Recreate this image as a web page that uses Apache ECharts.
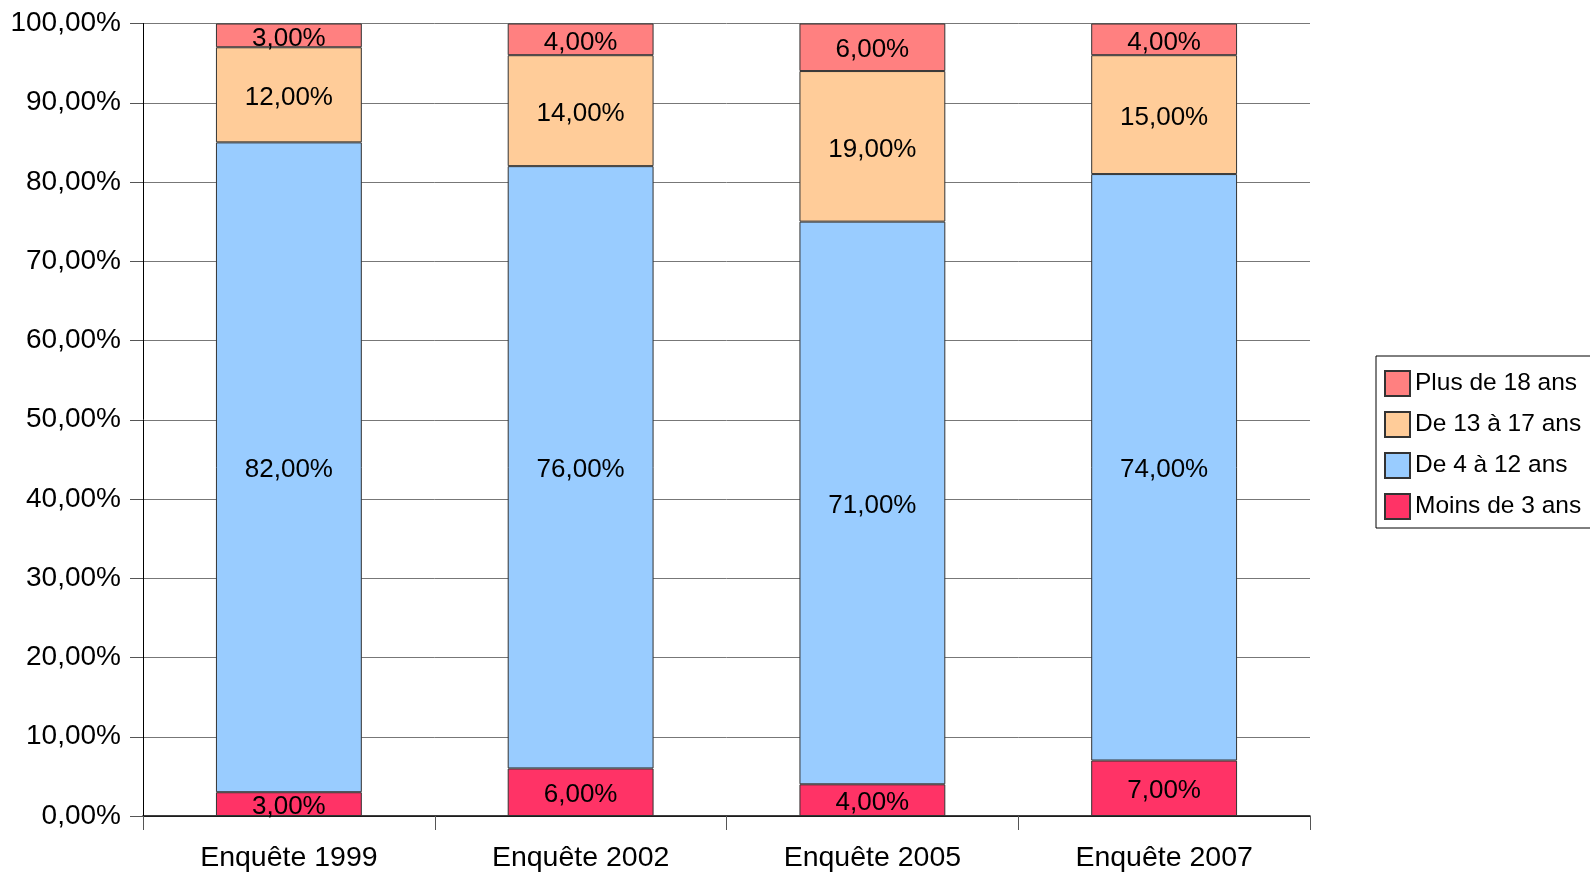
<!DOCTYPE html>
<html><head><meta charset="utf-8">
<script src="https://cdn.jsdelivr.net/npm/echarts@6/dist/echarts.min.js"></script>
<style>html,body{margin:0;padding:0;background:#fff}#c{width:1590px;height:877px}</style>
</head><body><div id="c"></div>
<script>
const categories = ['Enquête 1999', 'Enquête 2002', 'Enquête 2005', 'Enquête 2007'];
const moins3 = [3, 6, 4, 7];
const de4a12 = [82, 76, 71, 74];
const de13a17 = [12, 14, 19, 15];
const plus18 = [3, 4, 6, 4];
const seriesNames = ['Moins de 3 ans', 'De 4 à 12 ans', 'De 13 à 17 ans', 'Plus de 18 ans'];
const colors = ['#FF3366', '#99CCFF', '#FFCC99', '#FF8080'];

const fmt = v => v.toFixed(2).replace('.', ',') + '%';
const FONT = 'Liberation Sans, Arial, sans-serif';
const dataSets = [moins3, de4a12, de13a17, plus18];

const chart = echarts.init(document.getElementById('c'));
chart.setOption({
  animation: false,
  backgroundColor: '#fff',
  grid: { left: 143, right: 280, top: 23.5, bottom: 61 },
  legend: {
    orient: 'vertical',
    left: 1376, top: 356,
    data: ['Plus de 18 ans', 'De 13 à 17 ans', 'De 4 à 12 ans', 'Moins de 3 ans'],
    itemWidth: 25, itemHeight: 25, itemGap: 14,
    padding: [14, 10, 8, 8],
    borderColor: '#000', borderWidth: 1,
    textStyle: { fontFamily: FONT, fontSize: 24.5, color: '#000' },
    icon: 'rect'
  },
  xAxis: {
    type: 'category', data: categories,
    axisLine: { lineStyle: { color: '#000', width: 1.5 } },
    axisTick: { show: true, alignWithLabel: false, length: 14, lineStyle: { color: '#555' } },
    axisLabel: { fontFamily: FONT, fontSize: 28.5, color: '#000', margin: 28 }
  },
  yAxis: {
    type: 'value', min: 0, max: 100, interval: 10,
    axisLine: { show: true, lineStyle: { color: '#000', width: 1 } },
    axisTick: { show: true, length: 13, lineStyle: { color: '#555' } },
    splitLine: { lineStyle: { color: '#777', width: 1 } },
    axisLabel: { fontFamily: FONT, fontSize: 28, color: '#000', margin: 22, padding: [3, 0, 0, 0], formatter: v => fmt(v) }
  },
  series: seriesNames.map((name, i) => ({
    name, type: 'bar', stack: 'total',
    barWidth: '50%',
    data: dataSets[i],
    itemStyle: { color: colors[i], borderColor: '#333', borderWidth: 1 },
    label: { show: true, position: 'inside', offset: [0, 3], fontFamily: FONT, fontSize: 26, color: '#000', formatter: p => fmt(p.value) }
  }))
});
</script></body></html>
